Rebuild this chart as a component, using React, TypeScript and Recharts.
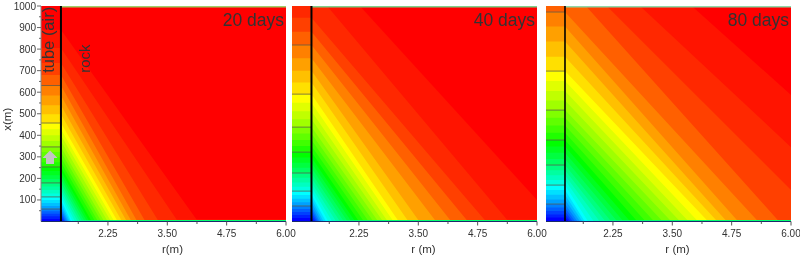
import React from "react";
import {
  Area,
  ComposedChart,
  ReferenceDot,
  ReferenceLine,
  XAxis,
  YAxis,
} from "recharts";

const R_MIN = 0.84;
const R_MAX = 6;
const X_MAX = 1000;

const rTicks = [1.625, 2.25, 2.875, 3.5, 4.125, 4.75, 5.375, 6];
const rLabels = [2.25, 3.5, 4.75, 6];
const xTicks = [50, 100, 150, 200, 250, 300, 350, 400, 450, 500, 550, 600, 650, 700, 750, 800, 850, 900, 950, 1000];

// band colours, coldest first; contour k has colour k below it and k + 1 above it
const bandColors = [
  "#0000ff", "#0020ff", "#0040ff", "#0060ff", "#0080ff", "#00a0ff", "#00c0ff", "#00e0ff",
  "#00ffff", "#00ffe0", "#00ffc0", "#00ffa0", "#00ff80", "#00ff60", "#00ff40", "#00ff20",
  "#00ff00", "#20ff00", "#40ff00", "#60ff00", "#80ff00", "#a0ff00", "#c0ff00", "#e0ff00",
  "#ffff00", "#ffe000", "#ffc000", "#ffa000", "#ff8000", "#ff6000", "#ff4000", "#ff2800",
  "#ff1400", "#ff0000",
];

// height of each contour along the bottom boundary strip
const floorX = [1, 1, 1, 1.5, 1.5, 2, 2, 2, 2.5, 2.5, 3, 3, 3, 3.5, 3.5, 4, 4, 4.5, 4.5, 5, 5, 5.5, 5.5, 6, 6, 6.5, 6.5, 7, 7, 7.5, 7.5, 8, 8];

// 20 days
const wall20 = [12, 24, 36, 47, 58, 72, 86, 100, 114, 130, 146, 162, 179, 197, 215, 234, 253, 275, 298, 322, 346, 373, 400, 428, 457, 498, 540, 585, 631, 680, 735, 805, 890];
const foot20 = [1.3, 1.32, 1.34, 1.36, 1.39, 1.41, 1.44, 1.47, 1.5, 1.55, 1.6, 1.65, 1.7, 1.75, 1.8, 1.85, 1.9, 1.97, 2.03, 2.1, 2.16, 2.23, 2.3, 2.37, 2.44, 2.53, 2.63, 2.73, 2.85, 3.02, 3.3, 3.7, 4.12];
const crest20: number[] = [];
const side20: number[] = [];
const lines20 = [58, 114, 179, 253, 346, 457, 631];

// 40 days
const wall40 = [16, 30, 44, 58, 72, 89, 106, 123, 141, 161, 181, 203, 225, 249, 273, 297, 322, 350, 378, 408, 438, 475, 512, 551, 591, 645, 700, 758, 819, 880, 945];
const foot40 = [1.3, 1.33, 1.36, 1.39, 1.42, 1.46, 1.5, 1.55, 1.6, 1.68, 1.76, 1.84, 1.92, 2.0, 2.08, 2.16, 2.24, 2.34, 2.44, 2.54, 2.64, 2.74, 2.84, 2.96, 3.07, 3.27, 3.5, 3.85, 4.17, 4.52, 4.9, 5.37];
const crest40 = [1.58, 2.27];
const side40 = [100];
const lines40 = [72, 141, 225, 322, 438, 591, 819];

// 80 days
const wall80 = [18, 33, 49, 65, 81, 102, 124, 146, 169, 192, 215, 238, 262, 290, 319, 348, 378, 412, 446, 481, 517, 561, 606, 652, 698, 765, 835, 905, 972];
const foot80 = [1.32, 1.36, 1.4, 1.45, 1.5, 1.55, 1.6, 1.65, 1.72, 1.84, 1.96, 2.08, 2.2, 2.33, 2.46, 2.6, 2.75, 2.92, 3.1, 3.28, 3.46, 3.64, 3.82, 4.02, 4.23, 4.42, 4.62, 4.86, 5.28, 5.72];
const crest80 = [1.68, 2.12, 2.82, 3.91];
const side80 = [146, 345, 587];
const lines80 = [81, 169, 262, 378, 517, 698, 972];

const FONT = "'Liberation Sans', Arial, sans-serif";

type PanelProps = {
  left: number;
  width: number;
  title: string;
  xLabel: string;
  wallR: number;
  wallWidth: number;
  wall: number[];
  foot: number[];
  crest: number[];
  side: number[];
  lines: number[];
  showY?: boolean;
  topColor: string;
};

function contourPoints(k: number, p: PanelProps) {
  const pts: { r: number; x: number }[] = [];
  if (k < p.wall.length) {
    pts.push({ r: R_MIN, x: p.wall[k] }, { r: p.wallR, x: p.wall[k] });
  } else {
    pts.push({ r: R_MIN, x: X_MAX }, { r: p.crest[k - p.wall.length], x: X_MAX });
  }
  if (k < p.foot.length) {
    pts.push({ r: p.foot[k], x: floorX[k] }, { r: R_MAX, x: floorX[k] });
  } else {
    pts.push({ r: R_MAX, x: p.side[k - p.foot.length] });
  }
  return pts;
}

function RTick(props: any) {
  const { x, y, payload } = props;
  const major = rLabels.includes(payload.value);
  return (
    <g>
      <line x1={x} x2={x} y1={y} y2={y + (major ? 4 : 2.5)} stroke="#555" />
      {major && (
        <text x={x} y={y + 15} textAnchor="middle" fontSize={10} fontFamily={FONT} fill="#333">
          {payload.value.toFixed(2)}
        </text>
      )}
    </g>
  );
}

function XTick(props: any) {
  const { x, y, payload } = props;
  const major = payload.value % 100 === 0;
  return (
    <g>
      <line x1={x - (major ? 4 : 2)} x2={x} y1={y} y2={y} stroke="#666" />
      {major && (
        <text x={x - 5} y={y + 3.5} textAnchor="end" fontSize={10} fontFamily={FONT} fill="#333">
          {payload.value}
        </text>
      )}
    </g>
  );
}

function note(text: string, size: number, anchor: string, angle: number) {
  return (p: any) => (
    <text
      x={p.cx}
      y={p.cy}
      fontSize={size}
      fontFamily={FONT}
      fill="#333"
      textAnchor={anchor}
      transform={angle ? `rotate(${angle} ${p.cx} ${p.cy})` : undefined}
    >
      {text}
    </text>
  );
}

function arrow(p: any) {
  const { cx, cy } = p;
  return (
    <polygon
      fill="#c4c4c4"
      points={`${cx},${cy - 6.5} ${cx + 7.5},${cy + 1} ${cx + 4},${cy + 1} ${cx + 4},${cy + 7} ${cx - 4},${cy + 7} ${cx - 4},${cy + 1} ${cx - 7.5},${cy + 1}`}
    />
  );
}

function Panel(p: PanelProps) {
  const contourIds = bandColors.slice(0, -1).map((_, k) => k).reverse();
  const plotLeft = p.showY ? 41 : 0;
  return (
    <div style={{ position: "absolute", left: p.left - plotLeft, top: 0 }}>
      <ComposedChart
        width={p.width + plotLeft + 12}
        height={256}
        margin={{ top: 6, right: 12, bottom: 0, left: 0 }}
      >
        <XAxis
          type="number"
          dataKey="r"
          domain={[R_MIN, R_MAX]}
          ticks={rTicks}
          interval={0}
          height={34.5}
          tickSize={0}
          tickMargin={0}
          tickLine={false}
          tick={RTick}
          stroke="#1a2a6a"
          allowDataOverflow
          label={{
            value: p.xLabel,
            position: "insideBottom",
            offset: 3,
            dx: 9,
            fontSize: 11.5,
            fontFamily: FONT,
            fill: "#333",
          }}
        />
        <YAxis
          type="number"
          dataKey="x"
          domain={[0, X_MAX]}
          ticks={xTicks}
          interval={0}
          hide={!p.showY}
          width={41}
          tickSize={0}
          tickMargin={0}
          tickLine={false}
          tick={XTick}
          stroke="#888"
          allowDataOverflow
          label={{
            value: "x(m)",
            angle: -90,
            position: "insideLeft",
            offset: 7,
            dy: 17,
            fontSize: 11.5,
            fontFamily: FONT,
            fill: "#333",
          }}
        />
        <Area
          data={[{ r: R_MIN, x: X_MAX }, { r: R_MAX, x: X_MAX }]}
          dataKey="x"
          type="linear"
          fill={bandColors[33]}
          fillOpacity={1}
          stroke="none"
          dot={false}
          activeDot={false}
          isAnimationActive={false}
        />
        {contourIds.map((k) => (
          <Area
            key={k}
            data={contourPoints(k, p)}
            dataKey="x"
            type="linear"
            fill={bandColors[k]}
            fillOpacity={1}
            stroke="none"
            dot={false}
            activeDot={false}
            isAnimationActive={false}
          />
        ))}
        {p.lines.map((x) => (
          <ReferenceLine
            key={x}
            segment={[{ x: R_MIN, y: x }, { x: p.wallR, y: x }]}
            stroke="#5a5a4a"
            strokeOpacity={0.75}
            strokeWidth={1}
          />
        ))}
        <ReferenceLine
          segment={[{ x: p.wallR, y: 997 }, { x: R_MAX, y: 997 }]}
          stroke={p.topColor}
          strokeWidth={1.5}
        />
        <ReferenceLine x={p.wallR} stroke="#000" strokeWidth={p.wallWidth} />
        <ReferenceDot x={5.96} y={905} r={0} shape={note(p.title, 17.5, "end", 0)} />
        {p.showY && (
          <ReferenceDot x={1.12} y={690} r={0} shape={note("tube (air)", 16.5, "start", -90)} />
        )}
        {p.showY && <ReferenceDot x={1.88} y={690} r={0} shape={note("rock", 15, "start", -90)} />}
        {p.showY && <ReferenceDot x={1.03} y={299} r={0} shape={arrow} />}
      </ComposedChart>
    </div>
  );
}

export default function App() {
  return (
    <div style={{ position: "absolute", left: 0, top: 0, width: 800, height: 256, background: "#fff", overflow: "hidden", filter: "blur(0.3px)" }}>
      <Panel left={41} width={245} title="20 days" xLabel="r(m)" wallR={1.26} wallWidth={2} wall={wall20} foot={foot20} crest={crest20} side={side20} lines={lines20} showY topColor="#9fce6a" />
      <Panel left={292} width={245} title="40 days" xLabel="r (m)" wallR={1.25} wallWidth={2} wall={wall40} foot={foot40} crest={crest40} side={side40} lines={lines40} topColor="#7fd08a" />
      <Panel left={546} width={245} title="80 days" xLabel="r (m)" wallR={1.24} wallWidth={1.6} wall={wall80} foot={foot80} crest={crest80} side={side80} lines={lines80} topColor="#8fd8a8" />
    </div>
  );
}
